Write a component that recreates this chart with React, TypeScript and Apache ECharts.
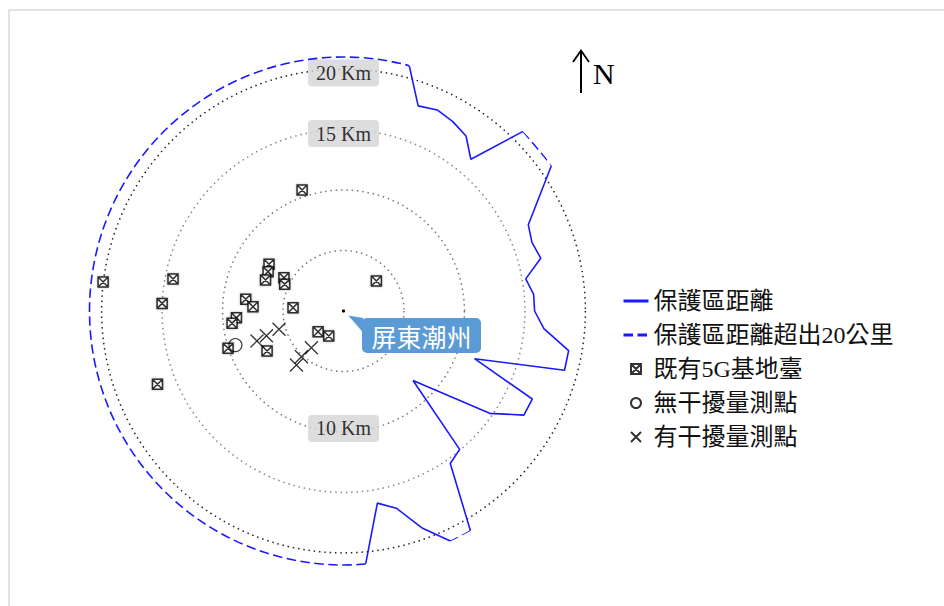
import React, { useEffect, useRef } from "react";
import * as echarts from "echarts";

// ---- data (radius in km, bearing in degrees clockwise from north) ----
const ringValues = [20, 15, 10];
const ringLabels = ["20 Km", "15 Km", "10 Km"];
const ringLabelAngles = [0, 0, 180];

const legendNames = ["保護區距離", "保護區距離超出20公里", "既有5G基地臺", "無干擾量測點", "有干擾量測點"];

const siteName = "屏東潮州";
const siteValue = [0, 0];

// protection distance (solid part); values beyond 20 km are drawn at 21 km
const boundarySolid: any[] = [
  [21, 15], [18.05, 20], [18.34, 25], [18.08, 30], [17.66, 35], [16.38, 40], [21, 45],
  "-",
  [21, 55], [16.86, 65], [16.58, 70], [16.88, 75], [15.3, 80], [15.78, 85], [15.8, 90],
  [16.63, 95], [18.9, 100], [18.92, 105], [11.53, 110], [17.22, 115], [17.22, 120],
  [14.75, 125], [8.13, 135], [14.94, 140], [15.39, 145], [21, 150],
  "-",
  [21, 155], [19.12, 160], [16.88, 165], [16.13, 170], [21, 175],
];

// beyond 20 km (dashed): short chords and the long arc [radius, startAngle, endAngle]
const beyondChords: any[] = [[21, 45], [21, 55], "-", [21, 150], [21, 155]];
const beyondArcs = [[21, 175, 375]];

const stations5G = [
  [10.57, 341.1], [20.02, 276.9], [14.34, 280.6], [15.01, 272.4], [3.68, 47.6],
  [7.27, 302.1], [7.03, 297.5], [6.94, 291.7], [5.64, 299.2], [5.34, 294.4],
  [8.14, 276.8], [7.49, 272.7], [4.18, 273.7], [8.87, 266.4], [9.27, 263.7],
  [2.71, 230.9], [2.4, 210.6], [10.03, 252.1], [7.13, 242.4], [16.53, 248.5],
];
const noInterference = [[9.37, 252.5]];
const interference = [
  [7.57, 250.9], [6.69, 252.2], [5.54, 254.2], [4.03, 221.2], [5.14, 222.6], [5.92, 221.1],
];

const BLUE = "#1a1aff";
const SERIF = "'Liberation Serif', 'Times New Roman', 'Noto Sans CJK TC', serif";
const CJK = "'Noto Sans CJK TC', 'Liberation Serif', sans-serif";
const HIDDEN_SYMBOL = { color: "rgba(0,0,0,0)", borderColor: "rgba(0,0,0,0)", borderWidth: 0 };

export default function App() {
  const ref = useRef<HTMLDivElement>(null);

  useEffect(() => {
    if (!ref.current) return;
    const chart = echarts.init(ref.current, undefined, { renderer: "svg" });

    const option: any = {
      animation: false,
      polar: { center: [343.5, 311], radius: 254 },
      angleAxis: {
        type: "value",
        min: 0,
        max: 360,
        startAngle: 90,
        clockwise: true,
        axisLine: { show: false },
        axisTick: { show: false },
        axisLabel: { show: false },
        splitLine: { show: false },
      },
      radiusAxis: {
        type: "value",
        min: 0,
        max: 21,
        interval: 5,
        axisLine: { show: false },
        axisTick: { show: false },
        axisLabel: { show: false },
        splitLine: {
          show: true,
          lineStyle: {
            color: ["rgba(0,0,0,0)", "#777", "#777", "#888", "#222", "rgba(0,0,0,0)"],
            width: 1.5,
            type: [1.5, 3.8],
          },
        },
      },
      legend: {
        orient: "vertical",
        left: 617,
        top: 284,
        itemWidth: 25,
        itemHeight: 10,
        itemGap: 10,
        selectedMode: false,
        data: [
          { name: legendNames[0], itemStyle: HIDDEN_SYMBOL },
          { name: legendNames[1], itemStyle: HIDDEN_SYMBOL },
          { name: legendNames[2] },
          { name: legendNames[3] },
          { name: legendNames[4] },
        ],
        textStyle: { fontSize: 24, lineHeight: 24, color: "#111", fontFamily: SERIF },
        lineStyle: { width: 3 },
      },
      graphic: [
        { type: "line", shape: { x1: 581, y1: 51, x2: 581, y2: 93 }, style: { stroke: "#000", lineWidth: 2 } },
        {
          type: "polyline",
          shape: { points: [[573, 62], [581, 50.5], [589, 62]] },
          style: { stroke: "#000", lineWidth: 1.8, fill: null },
        },
        {
          type: "text",
          style: { text: "N", x: 593, y: 73, verticalAlign: "middle", font: `30px ${SERIF}`, fill: "#000" },
        },
      ],
      series: [
        {
          name: legendNames[0],
          type: "line",
          coordinateSystem: "polar",
          symbol: "none",
          data: boundarySolid,
          lineStyle: { color: BLUE, width: 1.6 },
          itemStyle: { color: BLUE },
          z: 3,
        },
        {
          name: legendNames[1],
          type: "line",
          coordinateSystem: "polar",
          symbol: "none",
          data: beyondChords,
          lineStyle: { color: BLUE, width: 1.6, type: [9.5, 4.5] },
          itemStyle: { color: BLUE },
          z: 3,
        },
        {
          name: legendNames[1],
          type: "custom",
          coordinateSystem: "polar",
          data: beyondArcs,
          itemStyle: { color: BLUE },
          z: 3,
          renderItem: (params: any, api: any) => {
            const cs = params.coordSys;
            const r = api.value(0);
            const a0 = api.value(1);
            const a1 = api.value(2);
            const p = api.coord([r, a0]);
            const rad = Math.hypot(p[0] - cs.cx, p[1] - cs.cy);
            return {
              type: "arc",
              shape: {
                cx: cs.cx,
                cy: cs.cy,
                r: rad,
                startAngle: ((a0 - 90) * Math.PI) / 180,
                endAngle: ((a1 - 90) * Math.PI) / 180,
                clockwise: true,
              },
              style: { stroke: BLUE, lineWidth: 1.6, lineDash: [9.5, 4.5], fill: null },
            };
          },
        },
        {
          name: "rings",
          type: "scatter",
          coordinateSystem: "polar",
          symbolSize: 0,
          z: 2,
          silent: true,
          data: ringValues.map((v, i) => ({
            value: [v, ringLabelAngles[i]],
            label: { offset: [0, ringLabelAngles[i] === 0 ? 4 : -3.5] },
          })),
          label: {
            show: true,
            position: "inside",
            formatter: (p: any) => ringLabels[p.dataIndex],
            fontFamily: SERIF,
            fontSize: 20,
            lineHeight: 19,
            color: "#000",
            backgroundColor: "#d4d4d4",
            borderRadius: 4,
            padding: [4, 8],
          },
        },
        {
          name: legendNames[2],
          type: "scatter",
          coordinateSystem: "polar",
          symbol: "path://M0,0H10V10H0Z M0,0L10,10 M10,0L0,10",
          symbolSize: 10,
          data: stations5G,
          itemStyle: { color: "#fff", borderColor: "#000", borderWidth: 1.5, shadowBlur: 2, shadowColor: "rgba(0,0,0,0.35)" },
          z: 4,
        },
        {
          name: legendNames[3],
          type: "scatter",
          coordinateSystem: "polar",
          symbol: "circle",
          symbolSize: 13,
          data: noInterference,
          itemStyle: { color: "rgba(255,255,255,0)", borderColor: "#000", borderWidth: 1.2 },
          z: 4,
        },
        {
          name: legendNames[4],
          type: "scatter",
          coordinateSystem: "polar",
          symbol: "path://M0,0L10,10M10,0L0,10",
          symbolSize: 13,
          data: interference,
          itemStyle: { color: "rgba(0,0,0,0)", borderColor: "#000", borderWidth: 1.3 },
          z: 4,
        },
        {
          name: siteName,
          type: "custom",
          coordinateSystem: "polar",
          data: [siteValue],
          z: 5,
          renderItem: (params: any, api: any) => {
            const p = api.coord([api.value(0), api.value(1)]);
            const x = p[0];
            const y = p[1];
            return {
              type: "group",
              children: [
                { type: "circle", shape: { cx: x, cy: y, r: 1.6 }, style: { fill: "#000" } },
                {
                  type: "polygon",
                  shape: { points: [[x + 4.8, y + 4.5], [x + 20, y + 7], [x + 20, y + 22]] },
                  style: { fill: "#5b9bd5" },
                },
                {
                  type: "rect",
                  shape: { x: x + 18.5, y: y + 7, width: 119, height: 35, r: 5 },
                  style: { fill: "#5b9bd5" },
                },
                {
                  type: "text",
                  style: {
                    text: siteName,
                    x: x + 78,
                    y: y + 24.5,
                    align: "center",
                    verticalAlign: "middle",
                    fill: "#fff",
                    font: `25px ${CJK}`,
                  },
                },
              ],
            };
          },
        },
      ],
    };

    chart.setOption(option);
    return () => chart.dispose();
  }, []);

  return (
    <>
      <div
        style={{
          position: "absolute",
          left: 8,
          top: 9,
          width: 940,
          height: 600,
          border: "2px solid #e2e2e2",
          boxSizing: "border-box",
        }}
      />
      <div ref={ref} style={{ position: "absolute", left: 0, top: 0, width: 944, height: 606 }} />
    </>
  );
}
